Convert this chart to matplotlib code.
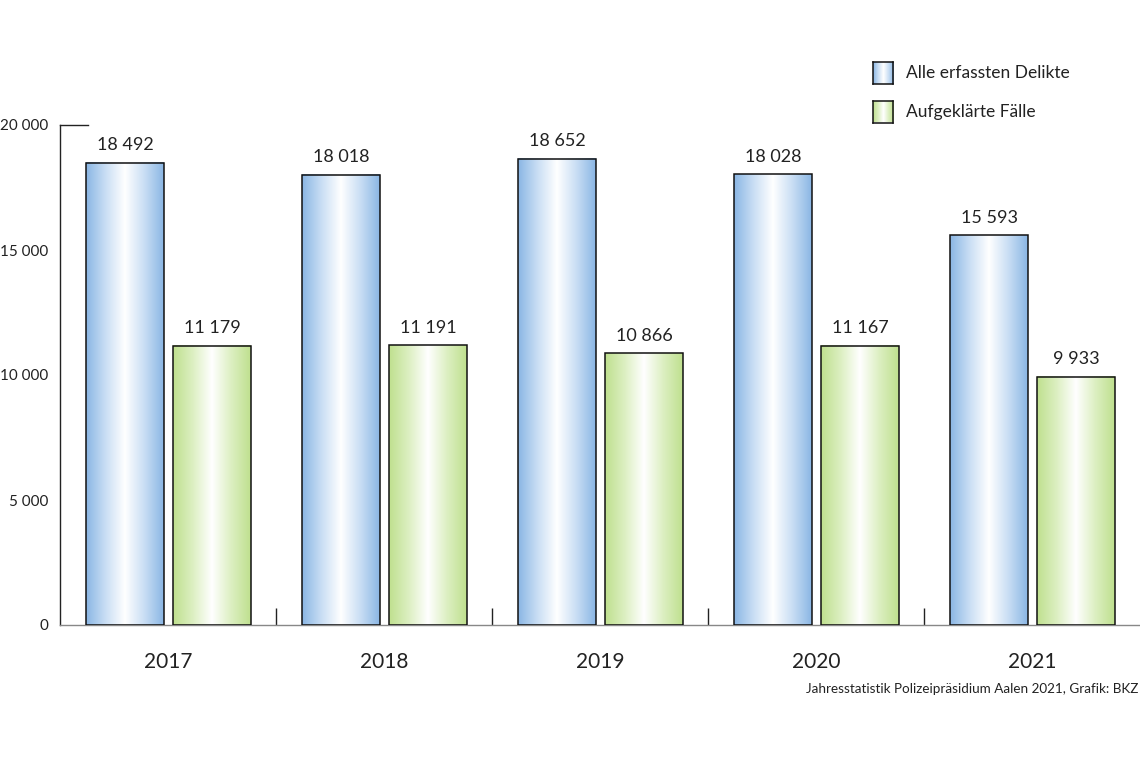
import numpy as np
import matplotlib
matplotlib.use("Agg")
import matplotlib.pyplot as plt
from matplotlib.colors import LinearSegmentedColormap
from matplotlib.patches import Rectangle

years = ["2017", "2018", "2019", "2020", "2021"]
alle = [18492, 18018, 18652, 18028, 15593]
aufgeklaert = [11179, 11191, 10866, 11167, 9933]
series_names = ["Alle erfassten Delikte", "Aufgeklärte Fälle"]
yticks = [0, 5000, 10000, 15000, 20000]

def fmt(v):
    return f"{v:,}".replace(",", " ")

plt.rcParams['font.family'] = ['Lato', 'DejaVu Sans']

blue_cmap = LinearSegmentedColormap.from_list("b", ["#8ab6e4", "#c9def4", "#ffffff", "#c9def4", "#8ab6e4"])
green_cmap = LinearSegmentedColormap.from_list("g", ["#bfe08e", "#dcefc1", "#ffffff", "#dcefc1", "#bfe08e"])
grad = np.linspace(0, 1, 256).reshape(1, -1)

fig = plt.figure(figsize=(11.4, 7.6), dpi=100)
ax = fig.add_axes([60/1140, 135/760, 1080/1140, 500/760])
ax.set_xlim(0, len(years))
ax.set_ylim(0, 20000)

w = 0.36
offs = [-0.199, 0.204]
cmaps = [blue_cmap, green_cmap]
for s, (vals, off, cm) in enumerate(zip([alle, aufgeklaert], offs, cmaps)):
    for i, v in enumerate(vals):
        x0 = i + 0.5 + off - w/2
        ax.imshow(grad, cmap=cm, aspect='auto', extent=[x0, x0 + w, 0, v], zorder=2)
        ax.add_patch(Rectangle((x0, 0), w, v, fill=False, edgecolor='#111111', lw=1.1, zorder=3))
        ax.text(x0 + w/2, v + 380, fmt(v), ha='center', va='bottom', fontsize=13, color='#222222')

ax.set_xlim(0, len(years))
ax.set_ylim(0, 20000)
for sp in ['top', 'right']:
    ax.spines[sp].set_visible(False)
ax.spines['left'].set_color('#222222')
ax.spines['left'].set_linewidth(1.0)
ax.spines['bottom'].set_color('#888888')
ax.spines['bottom'].set_linewidth(1.0)
ax.set_yticks(yticks)
ax.set_yticklabels([fmt(t) for t in yticks], fontsize=11, color='#222222')
ax.tick_params(axis='y', length=0, pad=8.5)
ax.set_xticks(range(1, len(years)))
ax.set_xticklabels([])
ax.tick_params(axis='x', direction='in', length=12, color='#222222', width=1.0)
ax.plot([0, 28/216], [20000, 20000], color='#222222', lw=1.0, clip_on=False, zorder=4)
for i, y in enumerate(years):
    ax.text(i + 0.5, -1480, y, ha='center', va='center', fontsize=15, color='#222222')

# legend
for k, (name, cm) in enumerate(zip(series_names, cmaps)):
    yc = 73 + k*38.5
    lax = fig.add_axes([873/1140, 1 - (yc + 11)/760, 20/1140, 22/760])
    lax.imshow(grad, cmap=cm, aspect='auto', extent=[0, 1, 0, 1])
    lax.set_xticks([]); lax.set_yticks([])
    for sp in lax.spines.values():
        sp.set_color('#111111'); sp.set_linewidth(1.1)
    fig.text(906/1140, 1 - yc/760, name, ha='left', va='center', fontsize=12.5, color='#222222')

fig.text(1138/1140, 1 - 689/760, "Jahresstatistik Polizeipräsidium Aalen 2021, Grafik: BKZ",
         ha='right', va='center', fontsize=9.7, color='#222222')

fig.savefig("out.png", dpi=100)
